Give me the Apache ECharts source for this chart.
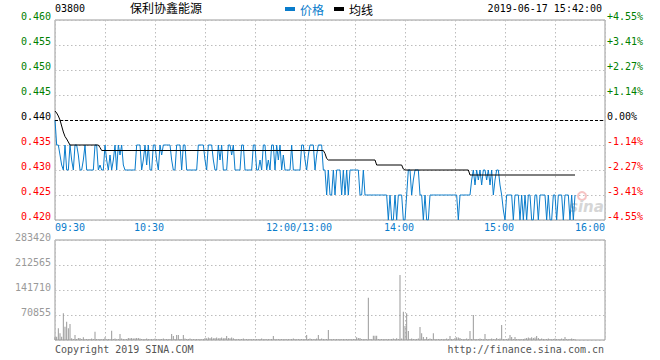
<!DOCTYPE html>
<html><head><meta charset="utf-8">
<script src="https://cdn.jsdelivr.net/npm/echarts@6/dist/echarts.min.js"></script>
<style>html,body{margin:0;padding:0;background:#fff}#c{width:660px;height:360px}</style>
</head><body><div id="c"></div>
<script>
const stockCode = '03800';
const stockName = '保利协鑫能源';
const timestamp = '2019-06-17 15:42:00';
const prevClose = 0.440;
const seriesNames = ['价格', '均线'];
const timeLabels = ['09:30', '10:30', '12:00/13:00', '14:00', '15:00', '16:00'];
const timeLabelMinutes = [0, 60, 150, 210, 270, 330];
const volumeTicks = [0, 70855, 141710, 212565, 283420];
const copyrightText = 'Copyright 2019 SINA.COM';
const urlText = 'http://finance.sina.com.cn';

// minute-by-minute price (minute 0 = 09:30, lunch removed)
const prices = [
  0.440,0.435,0.435,0.433,0.431,0.430,0.435,0.430,0.430,0.435,
  0.432,0.430,0.435,0.435,0.433,0.430,0.430,0.432,0.435,0.430,
  0.430,0.430,0.430,0.430,0.435,0.435,0.430,0.431,0.430,0.430,
  0.435,0.432,0.430,0.433,0.430,0.432,0.435,0.430,0.435,0.433,
  0.435,0.431,0.430,0.430,0.430,0.430,0.430,0.430,0.430,0.435,
  0.435,0.435,0.430,0.432,0.435,0.431,0.435,0.430,0.430,0.435,
  0.435,0.432,0.430,0.435,0.433,0.435,
  0.435,0.435,0.435,0.435,0.432,0.430,0.430,0.435,0.435,0.435,
  0.430,0.435,0.435,0.430,0.430,0.430,0.430,0.430,0.430,0.430,
  0.435,0.435,0.435,0.435,0.432,0.430,0.435,0.435,0.435,0.432,
  0.430,0.430,0.435,0.432,0.435,0.430,0.430,0.430,0.435,0.435,
  0.433,0.435,0.430,0.430,0.430,0.430,0.435,0.435,0.430,0.430,
  0.430,0.430,0.430,0.435,0.435,0.430,0.430,0.432,0.430,0.435,
  0.435,0.430,0.432,0.430,0.435,0.435,
  0.430,0.435,0.432,0.435,0.430,0.433,0.430,0.430,0.430,0.430,
  0.435,0.430,0.430,0.430,0.430,0.430,0.435,0.435,0.432,0.430,
  0.433,0.435,0.435,0.435,0.430,0.433,0.435,0.435,0.435,
  0.430,0.430,0.425,0.430,0.425,0.425,0.430,0.425,0.430,0.430,
  0.430,0.425,0.430,0.425,0.430,0.425,0.430,0.430,0.430,0.430,
  0.430,0.430,0.425,0.425,0.430,
  0.425,0.425,0.425,0.425,0.425,0.425,0.425,0.425,0.425,0.425,0.425,0.425,
  0.425,0.425,0.420,0.425,0.420,0.420,0.425,0.420,0.425,0.425,
  0.425,0.420,0.420,0.425,0.430,0.430,0.425,0.428,0.430,0.430,
  0.430,0.425,0.425,0.420,0.425,0.420,0.420,0.425,
  0.425,0.425,0.425,0.425,0.425,0.425,0.425,0.425,0.425,0.425,0.425,0.425,0.425,0.425,0.425,
  0.425,0.420,
  0.425,0.425,0.425,0.425,0.425,0.425,0.425,
  0.428,0.430,0.427,0.430,0.428,0.430,0.427,0.430,0.430,0.428,
  0.430,0.427,0.430,0.425,
  0.428,0.430,0.430,0.427,0.425,0.422,0.420,0.425,0.425,0.425,
  0.425,0.420,0.425,0.425,0.425,0.420,0.425,0.420,0.425,0.420,
  0.425,0.425,0.420,0.420,0.425,0.425,0.420,0.425,0.425,0.425,
  0.425,0.420,0.425,0.420,0.420,0.425,0.425,0.420,0.425,0.425,
  0.425,0.420,0.425,0.425,0.425,0.420,0.425,0.420,0.425
];

// average price line, read at its turning points [minute, value]
const avgPoints = [
  [0,0.4418],[1,0.4414],[2,0.4408],[3,0.4400],[4,0.4388],[5,0.4376],[6,0.4367],
  [7,0.4362],[8,0.4356],[9,0.4350],[26,0.4350],[27,0.4345],[28,0.4339],
  [161,0.4339],[162,0.4333],[163,0.4323],[164,0.4320],[192,0.4320],[193,0.4310],
  [208,0.4310],[209,0.4302],[210,0.4300],[248,0.4300],[249,0.4290],[312,0.4290]
];

const volumes = [
  8000,9400,33000,19000,9000,75600,37800,52000,33000,45000,
  5000,3000,14000,3000,6000,6000,3000,8000,2000,3000,
  2000,3000,4000,3000,23600,3000,2000,3000,2000,3000,
  8000,2000,3000,2000,26000,3000,4000,2000,3000,17000,
  4000,3000,2000,3000,6000,5000,6000,4000,5000,6000,
  6000,4000,3000,2000,3000,4000,3000,2000,3000,2000,
  4000,3000,2000,3000,3000,4000,2000,3000,2000,3000,
  17000,11000,3000,14000,14000,3000,2000,14000,4000,3000,
  3000,4000,2000,3000,2000,3000,2000,3000,2000,3000,
  6000,5000,7000,6000,8000,5000,6000,7000,5000,6000,
  7000,5000,6000,11000,6000,5000,7000,5000,3000,2000,
  3000,2000,3000,4000,2000,3000,2000,3000,2000,3000,
  2000,3000,2000,3000,4000,2000,3000,2000,3000,2000,
  3000,11000,3000,2000,3000,2000,3000,2000,3000,2000,
  3000,2000,3000,4000,3000,2000,3000,2000,3000,2000,
  3000,14000,3000,4000,3000,2000,3000,4000,14000,3000,
  4000,3000,2000,3000,28000,3000,2000,3000,2000,3000,
  2000,3000,2000,3000,2000,3000,2000,3000,2000,3000,
  3000,7600,5700,5700,3000,2000,3000,2000,120000,3000,
  2000,12000,12000,12000,3000,2000,3000,2000,3000,2000,
  3000,2000,3000,4000,3000,5000,3000,184000,4000,80000,
  39700,75600,25500,3000,4000,3000,2000,3000,4000,37000,
  19000,8500,3000,8500,3000,4000,3000,19000,3000,2000,
  3000,2000,3000,2000,3000,4000,3000,11000,3000,2000,
  6000,8000,7000,6000,3000,2000,3000,4000,3000,25500,
  3000,71000,3000,2000,3000,4000,3000,2000,17000,3000,
  2000,3000,4000,3000,2000,5600,3000,4000,42500,3000,
  2000,3000,4000,14000,8500,3000,8500,3000,2000,3000,
  2000,3000,4000,6000,7000,6000,8000,6000,7000,11000,
  6000,3000,4000,3000,2000,3000,4000,3000,2000,3000,
  4000,3000,2000,3000,4000,3000,8500,3000,2000,3000,
  4000,3000,2000
];

const MONO = 'DejaVu Sans Mono';
const CJK = 'Noto Sans CJK SC';
const BLUE = '#0a7ccb';
const GRIDC = '#bdbdbd';
const FRAME = '#9a9a9a';

function priceColor(v) {
  v = parseFloat(v);
  if (Math.abs(v - prevClose) < 1e-6) return '#000';
  return v > prevClose ? '#008000' : '#ff0000';
}
function pctText(v) {
  const p = (v - prevClose) / prevClose * 100;
  if (Math.abs(p) < 0.005) return '0.00%';
  return (p > 0 ? '+' : '') + p.toFixed(2) + '%';
}
// nudge interior time labels slightly left as in the original
const labelPositions = timeLabelMinutes.map((m, i) =>
  (i === 0 || i === timeLabelMinutes.length - 1) ? m : m - 3.6);

const chart = echarts.init(document.getElementById('c'), null, {renderer: 'svg'});
const splitDot = {show: true, lineStyle: {color: GRIDC, type: [1.5, 2.5], width: 1}};

chart.setOption({
  animation: false,
  backgroundColor: '#fff',
  textStyle: {fontFamily: MONO},
  legend: {
    left: 285, top: 3, padding: 0, itemWidth: 10, itemHeight: 4, itemGap: 10, icon: 'rect',
    data: [
      {name: seriesNames[0], textStyle: {color: BLUE}},
      {name: seriesNames[1], textStyle: {color: '#000'}}
    ],
    textStyle: {fontFamily: CJK, fontSize: 12}
  },
  graphic: [
    {type: 'text', left: 55, top: 3, style: {text: stockCode, font: '10px "DejaVu Sans Mono"', fill: '#000'}},
    {type: 'text', left: 130, top: 1, style: {text: stockName, font: '12px "Noto Sans CJK SC"', fill: '#000'}},
    {type: 'text', right: 58, top: 3, style: {text: timestamp, font: '10px "DejaVu Sans Mono"', fill: '#000'}},
    {type: 'text', left: 55, top: 344, style: {text: copyrightText, font: '10px "DejaVu Sans Mono"', fill: '#555'}},
    {type: 'text', right: 56, top: 344, style: {text: urlText, font: '10px "DejaVu Sans Mono"', fill: '#555'}},
    {type: 'circle', shape: {cx: 582, cy: 196, r: 4}, style: {fill: 'none', stroke: '#f6c4c4', lineWidth: 2}},
    {type: 'text', left: 569, top: 199, style: {text: 'sina', font: 'italic bold 15px "DejaVu Sans"', fill: '#d6d6d6'}}
  ],
  grid: [
    {left: 55, right: 55, top: 20, height: 200, show: true, borderColor: FRAME, borderWidth: 1, backgroundColor: 'transparent'},
    {left: 55, right: 55, top: 240, height: 100, show: true, borderColor: FRAME, borderWidth: 1, backgroundColor: 'transparent'}
  ],
  xAxis: [
    {
      type: 'value', gridIndex: 0, min: 0, max: 330, interval: 30,
      axisLine: {show: false}, axisTick: {show: false}, splitLine: splitDot,
      axisLabel: {
        show: true, customValues: labelPositions, margin: 2,
        alignMinLabel: 'left', alignMaxLabel: 'right',
        color: BLUE, fontFamily: MONO, fontSize: 10,
        formatter: (v) => timeLabels[labelPositions.indexOf(v)] ?? ''
      }
    },
    {
      type: 'value', gridIndex: 1, min: 0, max: 330, interval: 30,
      axisLine: {show: false}, axisTick: {show: false}, splitLine: splitDot,
      axisLabel: {show: false}
    }
  ],
  yAxis: [
    {
      type: 'value', gridIndex: 0, position: 'left', min: 0.420, max: 0.460, interval: 0.005,
      axisLine: {show: false}, axisTick: {show: false}, splitLine: splitDot,
      axisLabel: {
        margin: 4, fontFamily: MONO, fontSize: 10, verticalAlign: 'bottom', lineHeight: 7,
        color: v => priceColor(v), formatter: v => v.toFixed(3)
      }
    },
    {
      type: 'value', gridIndex: 0, position: 'right', min: 0.420, max: 0.460, interval: 0.005,
      axisLine: {show: false}, axisTick: {show: false}, splitLine: {show: false},
      axisLabel: {
        margin: 2, fontFamily: MONO, fontSize: 10, verticalAlign: 'bottom', lineHeight: 7,
        color: v => priceColor(v), formatter: v => pctText(v)
      }
    },
    {
      type: 'value', gridIndex: 1, position: 'left', min: volumeTicks[0], max: volumeTicks[4], interval: volumeTicks[1],
      axisLine: {show: false}, axisTick: {show: false}, splitLine: splitDot,
      axisLabel: {
        margin: 4, fontFamily: MONO, fontSize: 10, verticalAlign: 'bottom', lineHeight: 5, color: '#999',
        formatter: v => v === 0 ? '' : String(Math.round(v))
      }
    }
  ],
  series: [
    {
      name: seriesNames[0], type: 'line', xAxisIndex: 0, yAxisIndex: 0,
      data: prices.map((p, i) => [i, p]), showSymbol: false, symbol: 'none',
      color: BLUE, lineStyle: {color: BLUE, width: 1}, z: 3,
      markLine: {
        silent: true, symbol: 'none', label: {show: false},
        lineStyle: {color: '#000', type: [3, 2], width: 1},
        data: [{yAxis: prevClose}]
      }
    },
    {
      name: seriesNames[1], type: 'line', xAxisIndex: 0, yAxisIndex: 0,
      data: avgPoints, showSymbol: false, symbol: 'none',
      color: '#000', lineStyle: {color: '#000', width: 1}, z: 4
    },
    {
      name: 'volume', type: 'bar', xAxisIndex: 1, yAxisIndex: 2,
      data: volumes.map((v, i) => [i, v]), barWidth: 1,
      itemStyle: {color: '#999'}
    }
  ]
});
</script>
</body></html>
